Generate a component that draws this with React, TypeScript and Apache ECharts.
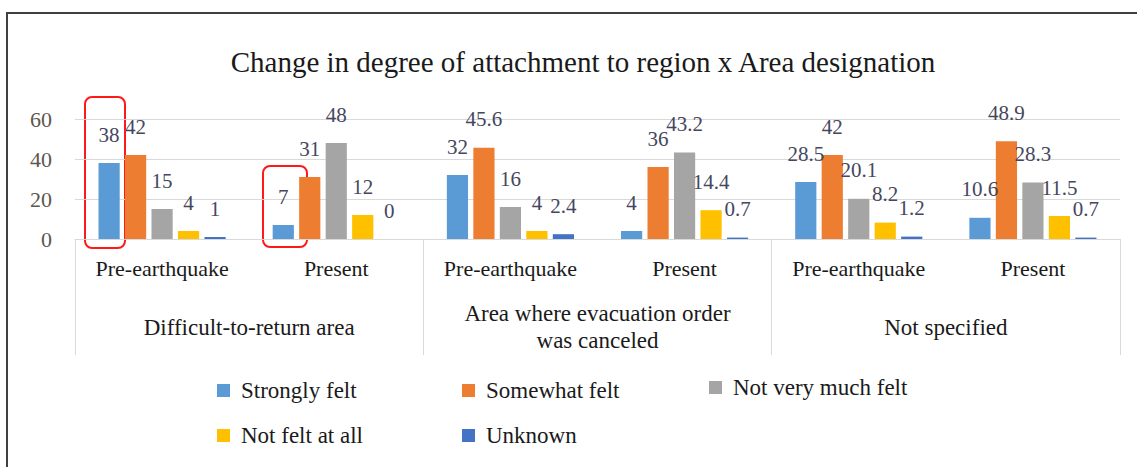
import React, { useEffect, useRef } from "react";
import * as echarts from "echarts";

const titleText = "Change in degree of attachment to region x Area designation";
const periods = ["Pre-earthquake", "Present", "Pre-earthquake", "Present", "Pre-earthquake", "Present"];
const areas = ["Difficult-to-return area", "Area where evacuation order\nwas canceled", "Not specified"];
const seriesNames = ["Strongly felt", "Somewhat felt", "Not very much felt", "Not felt at all", "Unknown"];
const stronglyFelt = [38, 7, 32, 4, 28.5, 10.6];
const somewhatFelt = [42, 31, 45.6, 36, 42, 48.9];
const notVeryMuchFelt = [15, 48, 16, 43.2, 20.1, 28.3];
const notFeltAtAll = [4, 12, 4, 14.4, 8.2, 11.5];
const unknown = [1, 0, 2.4, 0.7, 1.2, 0.7];
const yTicks = { min: 0, max: 60, interval: 20 };

const colors = ["#5B9BD5", "#ED7D31", "#A5A5A5", "#FFC000", "#4472C4"];
const serif = "'Liberation Serif', 'Times New Roman', serif";

export default function App() {
  const ref = useRef<HTMLDivElement>(null);
  useEffect(() => {
    if (!ref.current) return;
    const chart = echarts.init(ref.current, null, { renderer: "svg" });
    const values = [stronglyFelt, somewhatFelt, notVeryMuchFelt, notFeltAtAll, unknown];
    const legendPos = [
      { left: 217, top: 379 },
      { left: 462, top: 379 },
      { left: 709, top: 376 },
      { left: 217, top: 424 },
      { left: 462, top: 424 },
    ];
    chart.setOption({
      animation: false,
      backgroundColor: "#ffffff",
      title: {
        text: titleText,
        left: 578,
        textAlign: "center",
        top: 42,
        textStyle: { fontFamily: serif, fontSize: 29, fontWeight: "normal", color: "#1a1a1a" },
      },
      grid: { left: 75, right: 17, top: 119, height: 120 },
      legend: seriesNames.map((n, i) => ({
        data: [n],
        left: legendPos[i].left,
        top: legendPos[i].top,
        padding: 0,
        itemWidth: 13,
        itemHeight: 13,
        icon: "rect",
        textStyle: { fontFamily: serif, fontSize: 23, color: "#1a1a1a", padding: [0, 0, 0, 6] },
      })),
      xAxis: [
        {
          type: "category",
          data: periods,
          position: "bottom",
          axisLine: { show: true, lineStyle: { color: "#d9d9d9", width: 1 } },
          axisTick: { show: false },
          axisLabel: {
            interval: 0,
            margin: 29,
            verticalAlign: "middle",
            fontFamily: serif,
            fontSize: 22,
            color: "#1a1a1a",
          },
        },
        {
          type: "category",
          data: areas,
          position: "bottom",
          axisLine: { show: false },
          axisTick: { show: true, length: 116, interval: 0, lineStyle: { color: "#d9d9d9", width: 1 } },
          axisLabel: {
            interval: 0,
            margin: 88,
            verticalAlign: "middle",
            lineHeight: 27,
            fontFamily: serif,
            fontSize: 23,
            color: "#1a1a1a",
          },
        },
      ],
      yAxis: {
        type: "value",
        min: yTicks.min,
        max: yTicks.max,
        interval: yTicks.interval,
        axisLine: { show: false },
        axisTick: { show: false },
        splitLine: { lineStyle: { color: "#d9d9d9", width: 1 } },
        axisLabel: { margin: 23, fontFamily: serif, fontSize: 22, color: "#5e564e" },
      },
      series: seriesNames.map((n, i) => ({
        name: n,
        type: "bar",
        xAxisIndex: 0,
        data: values[i],
        barGap: "25%",
        barCategoryGap: "27%",
        itemStyle: { color: colors[i] },
        label: {
          show: true,
          position: "top",
          distance: 18,
          fontFamily: serif,
          fontSize: 21,
          color: "#45475e",
        },
      })),
      graphic: [
        {
          type: "polyline",
          shape: { points: [[7, 470], [7, 13], [1140, 13]] },
          style: { stroke: "#404040", lineWidth: 2, fill: "none" },
        },
        {
          type: "rect",
          shape: { x: 85, y: 97, width: 40, height: 151, r: 7 },
          style: { stroke: "#ff1a1a", lineWidth: 2, fill: "none" },
        },
        {
          type: "rect",
          shape: { x: 263, y: 166, width: 44, height: 81, r: 7 },
          style: { stroke: "#ff1a1a", lineWidth: 2, fill: "none" },
        },
      ],
    });
    return () => chart.dispose();
  }, []);
  return (
    <div
      ref={ref}
      style={{ position: "absolute", left: 0, top: 0, width: 1137, height: 467, background: "#fff" }}
    />
  );
}
